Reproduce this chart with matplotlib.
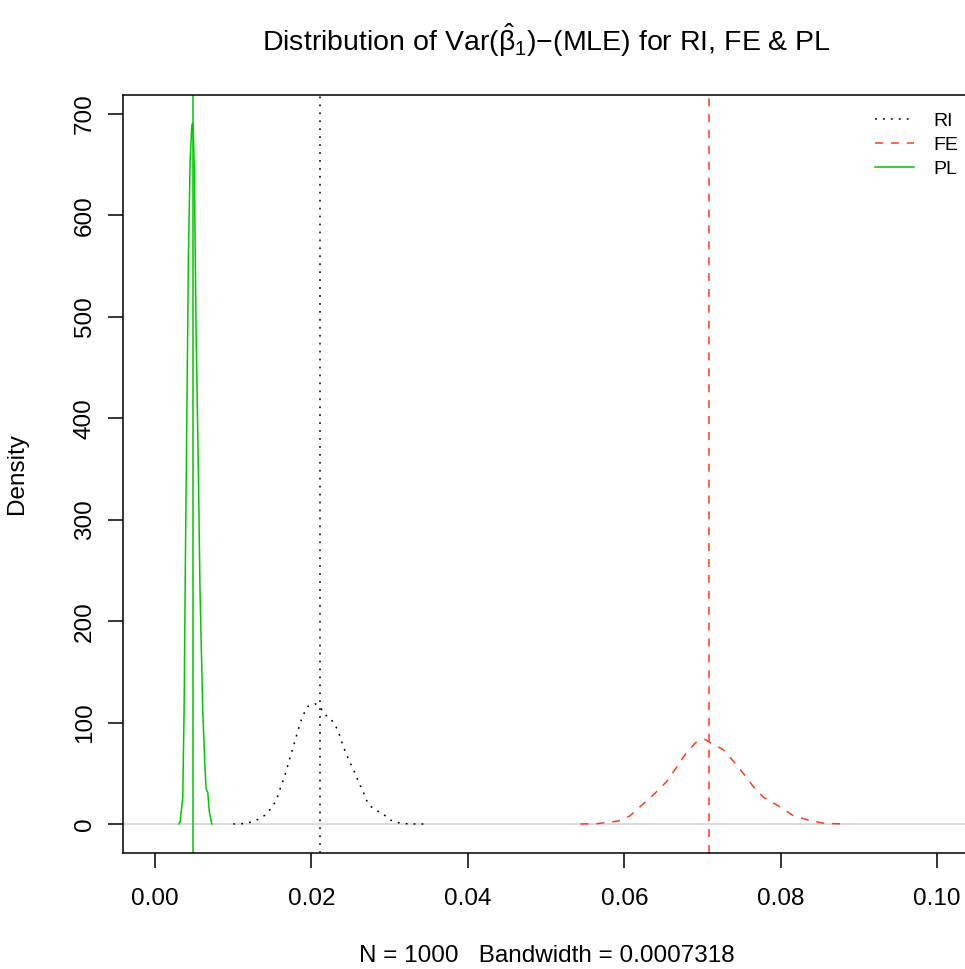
import matplotlib
matplotlib.use("Agg")
from matplotlib import pyplot as plt

plt.rcParams['font.family'] = ['Liberation Sans', 'DejaVu Sans']
plt.rcParams['mathtext.fontset'] = 'custom'
plt.rcParams['mathtext.rm'] = 'Liberation Sans'
plt.rcParams['mathtext.it'] = 'Liberation Sans:italic'

# density estimates
ri_x = [0.0100, 0.0111, 0.0122, 0.0132, 0.0141, 0.0148, 0.0154, 0.0158, 0.0161,
        0.0165, 0.0168, 0.0171, 0.0174, 0.0177, 0.0180, 0.0183, 0.0186, 0.0190,
        0.0195, 0.0205, 0.0212, 0.0220, 0.0228, 0.0233, 0.0237, 0.0240, 0.0244,
        0.0248, 0.0253, 0.0257, 0.0261, 0.0266, 0.0269, 0.0275, 0.0284, 0.0293,
        0.0301, 0.0311, 0.0322, 0.0333, 0.0343]
ri_y = [0.0, 0.3, 1.7, 4.6, 8.9, 15.1, 22.0, 29.6, 37.5,
        45.4, 53.2, 61.1, 69.0, 76.9, 84.8, 92.7, 100.6, 108.4,
        115.7, 118.5, 114.0, 105.8, 100.6, 93.3, 85.4, 77.6, 70.3,
        62.4, 54.9, 47.6, 39.7, 32.5, 25.0, 17.7, 13.1, 8.9,
        3.9, 1.3, 0.2, 0.0, 0.0]

fe_x = [0.0544, 0.0565, 0.0593, 0.0607, 0.0620, 0.0637, 0.0654, 0.0665, 0.0678,
        0.0691, 0.0703, 0.0710, 0.0727, 0.0740, 0.0752, 0.0765, 0.0778, 0.0799,
        0.0816, 0.0838, 0.0855, 0.0880]
fe_y = [0.0, 0.3, 3.0, 7.9, 17.0, 28.6, 41.7, 53.9, 68.7,
        80.2, 83.5, 80.2, 73.0, 61.4, 50.0, 36.8, 26.3, 17.0,
        8.2, 3.3, 0.7, 0.0]

pl_x = [0.00305, 0.00320, 0.00354, 0.00371, 0.00387, 0.00405, 0.00426, 0.00448,
        0.00469, 0.00480, 0.00490, 0.00503, 0.00524, 0.00554, 0.00575, 0.00610,
        0.00639, 0.00652, 0.00674, 0.00694, 0.00725]
pl_y = [0.0, 2.0, 26.0, 111.0, 252.0, 393.0, 558.0, 653.0,
        688.0, 691.0, 680.0, 640.0, 488.0, 346.0, 229.0, 111.0,
        54.0, 35.0, 31.0, 12.0, 0.0]

# means (vertical lines)
mean_ri = 0.0211
mean_fe = 0.0708
mean_pl = 0.00486

x_ticks = [0.00, 0.02, 0.04, 0.06, 0.08, 0.10]
y_ticks = [0, 100, 200, 300, 400, 500, 600, 700]

ri_style = dict(color='black', lw=1.1, linestyle=(0, (1.2, 4.0)))
fe_style = dict(color='#ff3a1f', lw=1.1, linestyle=(0, (5.2, 5.2)))
pl_style = dict(color='#00c800', lw=1.1, linestyle='-')

fig = plt.figure(figsize=(9.65, 9.69), dpi=100)
ax = fig.add_axes([123 / 965, 1 - 853 / 969, (970 - 123) / 965, (853 - 95) / 969])

ax.axhline(0, color='#d9d9d9', lw=1.3, zorder=1)

ax.plot(ri_x, ri_y, label='RI', **ri_style)
ax.plot(fe_x, fe_y, label='FE', **fe_style)
ax.plot(pl_x, pl_y, label='PL', **pl_style)

ax.axvline(mean_ri, **ri_style)
ax.axvline(mean_fe, **fe_style)
ax.axvline(mean_pl, **pl_style)

ax.set_xlim(-0.0041, 0.1042)
ax.set_ylim(-28.6, 718.7)
ax.set_xticks(x_ticks)
ax.set_xticklabels(['%.2f' % t for t in x_ticks])
ax.set_yticks(y_ticks)
ax.set_yticklabels([str(t) for t in y_ticks], rotation=90, va='center')

for s in ax.spines.values():
    s.set_linewidth(1.1)
ax.tick_params(length=10.5, width=1.1, labelsize=17.5, direction='out')
ax.tick_params(axis='x', pad=15)
ax.tick_params(axis='y', pad=9)

ax.set_title(r'Distribution of Var($\hat{\mathrm{\beta}}_1$)' + '\u2212(MLE) for RI, FE & PL',
             fontsize=20.5, pad=32)
ax.set_xlabel('N = 1000   Bandwidth = 0.0007318', fontsize=17.5, labelpad=25)
ax.set_ylabel('Density', fontsize=17.5, labelpad=33)

ax.legend(loc='upper right', bbox_to_anchor=(0.993, 0.884), bbox_transform=fig.transFigure,
          frameon=False, fontsize=14, handlelength=2.0, handletextpad=1.0,
          labelspacing=0.33, borderpad=0, borderaxespad=0)

fig.savefig('out.png', dpi=100)
